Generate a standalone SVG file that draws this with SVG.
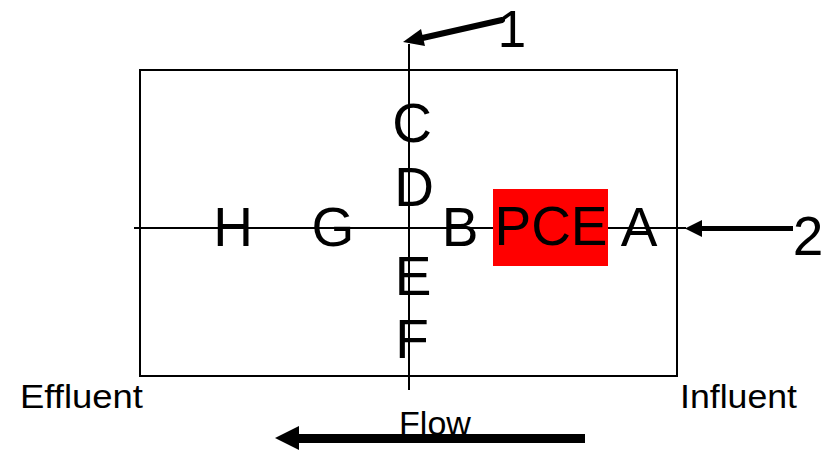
<svg xmlns="http://www.w3.org/2000/svg" width="831" height="450" viewBox="0 0 831 450">
<style>
.big{font-family:"Liberation Sans",Arial,sans-serif;font-size:55px;fill:#000;text-anchor:middle}
.lbl{font-family:"Liberation Sans",Arial,sans-serif;font-size:34px;fill:#000}
.thin{stroke:#000;stroke-width:2;fill:none}
</style>
<rect width="831" height="450" fill="#fff"/>
<g id="box"><rect class="thin" x="140" y="70" width="537" height="306"/></g>
<g id="axes">
<line class="thin" x1="409" y1="44" x2="409" y2="390"/>
<line class="thin" x1="134" y1="228" x2="686" y2="228"/>
</g>
<g id="pce"><rect x="493" y="189" width="115" height="77" fill="#ff0000"/><text class="big" x="551" y="245">PCE</text></g>
<g id="H"><text class="big" x="233" y="246">H</text></g>
<g id="G"><text class="big" x="333" y="246">G</text></g>
<g id="B"><text class="big" x="460" y="246">B</text></g>
<g id="A"><text class="big" x="639" y="246">A</text></g>
<g id="C"><text class="big" x="412" y="142">C</text></g>
<g id="D"><text class="big" x="414" y="206">D</text></g>
<g id="E"><text class="big" x="413" y="295">E</text></g>
<g id="F"><text class="big" x="412" y="358">F</text></g>
<g id="effluent"><text class="lbl" x="20" y="408" textLength="123" lengthAdjust="spacingAndGlyphs">Effluent</text></g>
<g id="influent"><text class="lbl" x="680" y="408" textLength="117" lengthAdjust="spacingAndGlyphs">Influent</text></g>
<g id="flow"><text class="lbl" x="435" y="435" text-anchor="middle">Flow</text></g>
<g id="label1"><text class="big" x="512" y="47" style="font-size:51px">1</text></g>
<g id="label2"><text class="big" x="808" y="255">2</text></g>
<g id="connectors">
<line x1="502" y1="20" x2="418" y2="39" stroke="#000" stroke-width="6" stroke-linecap="round"/>
<polygon points="403,42 421,29 425,46" fill="#000"/>
<line x1="793" y1="228.5" x2="698" y2="228.5" stroke="#000" stroke-width="5"/>
<polygon points="685,228.5 702,220 702,237" fill="#000"/>
<line x1="298" y1="438.5" x2="585" y2="438.5" stroke="#000" stroke-width="9"/>
<polygon points="275,438 299,426 299,450" fill="#000"/>
</g>
</svg>
